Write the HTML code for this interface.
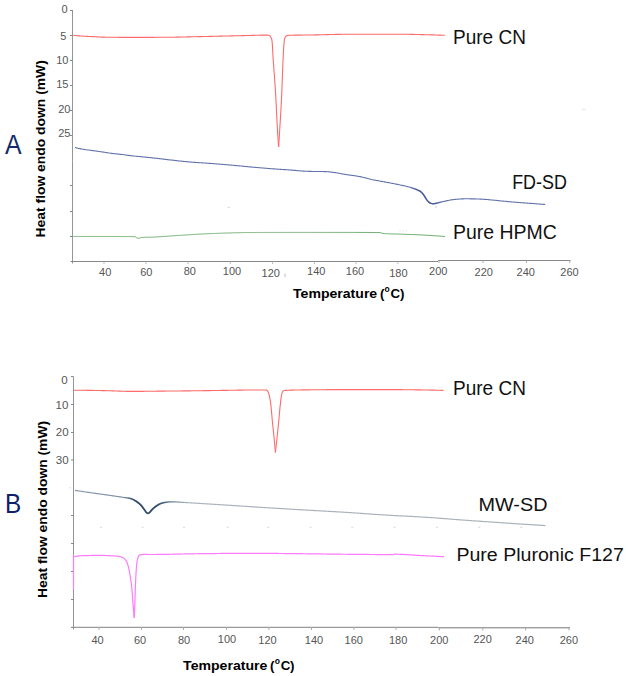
<!DOCTYPE html>
<html><head><meta charset="utf-8"><style>
html,body{margin:0;padding:0;background:#fff;}
svg{display:block;font-family:"Liberation Sans", sans-serif;}
</style></head><body>
<svg width="628" height="676" viewBox="0 0 628 676">
<rect width="628" height="676" fill="#fff"/>
<line x1="72.5" y1="10" x2="72.5" y2="263.5" stroke="#959595" stroke-width="1"/>
<line x1="70" y1="10.5" x2="72.5" y2="10.5" stroke="#888888" stroke-width="1"/>
<line x1="70" y1="35.5" x2="72.5" y2="35.5" stroke="#888888" stroke-width="1"/>
<line x1="70" y1="60.5" x2="72.5" y2="60.5" stroke="#888888" stroke-width="1"/>
<line x1="70" y1="85.5" x2="72.5" y2="85.5" stroke="#888888" stroke-width="1"/>
<line x1="70" y1="110.5" x2="72.5" y2="110.5" stroke="#888888" stroke-width="1"/>
<line x1="70" y1="135.5" x2="72.5" y2="135.5" stroke="#888888" stroke-width="1"/>
<line x1="70" y1="185.5" x2="72.5" y2="185.5" stroke="#888888" stroke-width="1"/>
<line x1="70" y1="211.5" x2="72.5" y2="211.5" stroke="#888888" stroke-width="1"/>
<line x1="70" y1="236.5" x2="72.5" y2="236.5" stroke="#888888" stroke-width="1"/>
<line x1="70.5" y1="261.5" x2="438" y2="261.5" stroke="#888888" stroke-width="1"/>
<line x1="438" y1="260.5" x2="570.5" y2="260.5" stroke="#888888" stroke-width="1"/>
<line x1="104" y1="261.5" x2="104" y2="264" stroke="#bbb" stroke-width="1"/>
<line x1="146" y1="261.5" x2="146" y2="264" stroke="#bbb" stroke-width="1"/>
<line x1="188" y1="261.5" x2="188" y2="264" stroke="#bbb" stroke-width="1"/>
<line x1="230.3" y1="261.5" x2="230.3" y2="264" stroke="#bbb" stroke-width="1"/>
<line x1="272.6" y1="261.5" x2="272.6" y2="264" stroke="#bbb" stroke-width="1"/>
<line x1="314.4" y1="261.5" x2="314.4" y2="264" stroke="#bbb" stroke-width="1"/>
<line x1="356.1" y1="261.5" x2="356.1" y2="264" stroke="#bbb" stroke-width="1"/>
<line x1="397.9" y1="261.5" x2="397.9" y2="264" stroke="#bbb" stroke-width="1"/>
<line x1="439.1" y1="260.5" x2="439.1" y2="263" stroke="#aaa" stroke-width="1"/>
<line x1="483" y1="260.5" x2="483" y2="263" stroke="#aaa" stroke-width="1"/>
<line x1="526.4" y1="260.5" x2="526.4" y2="263" stroke="#aaa" stroke-width="1"/>
<line x1="569.8" y1="260.5" x2="569.8" y2="263" stroke="#aaa" stroke-width="1"/>
<line x1="73.5" y1="376.5" x2="73.5" y2="629.5" stroke="#959595" stroke-width="1"/>
<line x1="71" y1="376.5" x2="73.5" y2="376.5" stroke="#888888" stroke-width="1"/>
<line x1="71" y1="404.5" x2="73.5" y2="404.5" stroke="#888888" stroke-width="1"/>
<line x1="71" y1="432.5" x2="73.5" y2="432.5" stroke="#888888" stroke-width="1"/>
<line x1="71" y1="459.9" x2="73.5" y2="459.9" stroke="#888888" stroke-width="1"/>
<line x1="71" y1="515.5" x2="73.5" y2="515.5" stroke="#888888" stroke-width="1"/>
<line x1="71" y1="543.5" x2="73.5" y2="543.5" stroke="#888888" stroke-width="1"/>
<line x1="71" y1="571.5" x2="73.5" y2="571.5" stroke="#888888" stroke-width="1"/>
<line x1="71" y1="599.5" x2="73.5" y2="599.5" stroke="#888888" stroke-width="1"/>
<line x1="71" y1="627.3" x2="438.3" y2="627.3" stroke="#808080" stroke-width="1"/>
<line x1="438.3" y1="627.8" x2="570" y2="627.8" stroke="#777" stroke-width="1"/>
<line x1="99" y1="627" x2="99" y2="630" stroke="#aaa" stroke-width="1"/>
<line x1="141.5" y1="627" x2="141.5" y2="630" stroke="#aaa" stroke-width="1"/>
<line x1="183.5" y1="627" x2="183.5" y2="630" stroke="#aaa" stroke-width="1"/>
<line x1="226.5" y1="627" x2="226.5" y2="630" stroke="#aaa" stroke-width="1"/>
<line x1="268.9" y1="627" x2="268.9" y2="630" stroke="#aaa" stroke-width="1"/>
<line x1="311.5" y1="627" x2="311.5" y2="630" stroke="#aaa" stroke-width="1"/>
<line x1="353.9" y1="627" x2="353.9" y2="630" stroke="#aaa" stroke-width="1"/>
<line x1="396" y1="627" x2="396" y2="630" stroke="#aaa" stroke-width="1"/>
<line x1="439.3" y1="627.8" x2="439.3" y2="630.5" stroke="#aaa" stroke-width="1"/>
<line x1="482.8" y1="627.8" x2="482.8" y2="630.5" stroke="#aaa" stroke-width="1"/>
<line x1="525.6" y1="627.8" x2="525.6" y2="630.5" stroke="#aaa" stroke-width="1"/>
<line x1="569" y1="627.8" x2="569" y2="630.5" stroke="#aaa" stroke-width="1"/>
<rect x="100" y="526.8" width="2" height="1" fill="#d4d8dc"/>
<rect x="141.5" y="526.8" width="2" height="1" fill="#d4d8dc"/>
<rect x="183" y="526.8" width="2" height="1" fill="#d4d8dc"/>
<rect x="226.6" y="526.8" width="2" height="1" fill="#d4d8dc"/>
<rect x="267.3" y="526.8" width="2" height="1" fill="#d4d8dc"/>
<rect x="309.6" y="526.8" width="2" height="1" fill="#d4d8dc"/>
<rect x="351.3" y="526.8" width="2" height="1" fill="#d4d8dc"/>
<rect x="393.5" y="526.8" width="2" height="1" fill="#d4d8dc"/>
<rect x="436" y="526.8" width="2" height="1" fill="#d4d8dc"/>
<rect x="478.2" y="526.8" width="2" height="1" fill="#d4d8dc"/>
<rect x="520.3" y="526.8" width="2" height="1" fill="#d4d8dc"/>
<rect x="69.5" y="487" width="1.2" height="1.5" fill="#cfe0f0"/>
<rect x="72" y="160" width="1" height="1.5" fill="#9aa0c8"/>
<rect x="582" y="108.8" width="3.5" height="1" fill="#dde3ec"/>
<rect x="284.6" y="273.5" width="0.9" height="3.5" fill="#b8b8b8"/>
<rect x="227.6" y="206.9" width="2.2" height="1" fill="#cfd3e6"/>
<rect x="435" y="206.5" width="2" height="1" fill="#c8cce0"/>
<rect x="399.5" y="230.5" width="1.2" height="0.8" fill="#d8d8d8"/>
<rect x="402.5" y="230.5" width="1.2" height="0.8" fill="#d8d8d8"/>
<rect x="405.5" y="230.5" width="1.2" height="0.8" fill="#d8d8d8"/>
<path d="M72.50,35.20 L73.50,35.31 L74.50,35.43 L75.50,35.53 L76.50,35.64 L77.50,35.73 L78.50,35.83 L79.50,35.91 L80.50,35.99 L81.50,36.07 L82.50,36.13 L83.50,36.19 L84.51,36.25 L85.51,36.30 L86.51,36.35 L87.52,36.39 L88.52,36.44 L89.52,36.48 L90.53,36.53 L91.53,36.58 L92.54,36.63 L93.54,36.68 L94.54,36.74 L95.55,36.79 L96.55,36.85 L97.55,36.91 L98.55,36.96 L99.56,37.01 L100.56,37.05 L101.57,37.09 L102.57,37.12 L103.57,37.14 L104.58,37.17 L105.58,37.20 L106.59,37.22 L107.59,37.24 L108.59,37.26 L109.60,37.28 L110.60,37.29 L111.61,37.30 L112.61,37.30 L113.62,37.31 L114.62,37.31 L115.63,37.32 L116.63,37.32 L117.64,37.32 L118.64,37.33 L119.64,37.33 L120.65,37.33 L121.65,37.34 L122.66,37.34 L123.66,37.34 L124.67,37.34 L125.67,37.34 L126.68,37.35 L127.68,37.35 L128.69,37.35 L129.69,37.35 L130.70,37.35 L131.70,37.35 L132.70,37.35 L133.71,37.35 L134.71,37.35 L135.72,37.35 L136.72,37.35 L137.73,37.35 L138.73,37.35 L139.74,37.35 L140.74,37.35 L141.75,37.35 L142.75,37.34 L143.75,37.34 L144.76,37.34 L145.76,37.34 L146.77,37.34 L147.77,37.34 L148.78,37.34 L149.78,37.33 L150.79,37.33 L151.79,37.33 L152.80,37.33 L153.80,37.33 L154.81,37.33 L155.81,37.32 L156.81,37.32 L157.82,37.32 L158.82,37.32 L159.83,37.31 L160.83,37.31 L161.84,37.31 L162.84,37.31 L163.85,37.30 L164.85,37.30 L165.85,37.30 L166.86,37.29 L167.86,37.28 L168.87,37.27 L169.87,37.26 L170.88,37.25 L171.88,37.24 L172.89,37.22 L173.89,37.20 L174.89,37.18 L175.90,37.16 L176.90,37.14 L177.91,37.12 L178.91,37.10 L179.92,37.08 L180.92,37.06 L181.93,37.03 L182.93,37.01 L183.93,36.98 L184.94,36.96 L185.94,36.94 L186.95,36.91 L187.95,36.89 L188.96,36.87 L189.96,36.84 L190.96,36.82 L191.97,36.80 L192.97,36.78 L193.98,36.76 L194.98,36.74 L195.99,36.72 L196.99,36.69 L197.99,36.67 L199.00,36.65 L200.00,36.62 L201.01,36.60 L202.01,36.58 L203.02,36.55 L204.02,36.53 L205.02,36.51 L206.03,36.48 L207.03,36.46 L208.04,36.44 L209.04,36.41 L210.05,36.39 L211.05,36.36 L212.05,36.34 L213.06,36.31 L214.06,36.29 L215.07,36.27 L216.07,36.24 L217.08,36.22 L218.08,36.19 L219.08,36.17 L220.09,36.14 L221.09,36.12 L222.10,36.10 L223.10,36.07 L224.11,36.05 L225.11,36.03 L226.11,36.00 L227.12,35.98 L228.12,35.96 L229.13,35.93 L230.13,35.91 L231.14,35.89 L232.14,35.86 L233.14,35.84 L234.15,35.82 L235.15,35.79 L236.16,35.77 L237.16,35.75 L238.17,35.72 L239.17,35.70 L240.17,35.68 L241.18,35.65 L242.18,35.63 L243.19,35.60 L244.19,35.58 L245.20,35.56 L246.20,35.53 L247.20,35.51 L248.21,35.49 L249.21,35.46 L250.22,35.44 L251.22,35.42 L252.23,35.39 L253.23,35.37 L254.23,35.34 L255.24,35.31 L256.24,35.28 L257.25,35.25 L258.25,35.22 L259.26,35.19 L260.26,35.17 L261.27,35.14 L262.27,35.12 L263.27,35.11 L264.28,35.10 L265.28,35.10 L266.29,35.12 L267.30,35.16 L268.29,35.24 L269.27,35.54 L270.04,36.09 L270.68,36.94 L271.16,37.82 L271.57,38.76 L271.86,39.73 L271.99,40.70 L272.10,41.68 L272.20,42.67 L272.29,43.66 L272.36,44.66 L272.42,45.66 L272.48,46.67 L272.53,47.68 L272.58,48.69 L272.63,49.71 L272.67,50.72 L272.72,51.73 L272.77,52.75 L272.82,53.75 L272.88,54.76 L272.95,55.76 L273.02,56.76 L273.09,57.77 L273.16,58.77 L273.23,59.77 L273.30,60.77 L273.37,61.78 L273.44,62.78 L273.52,63.78 L273.59,64.78 L273.66,65.78 L273.73,66.79 L273.81,67.79 L273.88,68.79 L273.95,69.79 L274.03,70.79 L274.10,71.80 L274.17,72.80 L274.24,73.80 L274.32,74.80 L274.39,75.80 L274.46,76.81 L274.53,77.81 L274.61,78.81 L274.68,79.81 L274.75,80.81 L274.82,81.82 L274.89,82.82 L274.96,83.82 L275.03,84.82 L275.10,85.82 L275.16,86.83 L275.23,87.83 L275.30,88.83 L275.36,89.83 L275.43,90.84 L275.49,91.84 L275.55,92.84 L275.61,93.84 L275.67,94.85 L275.73,95.85 L275.79,96.85 L275.85,97.85 L275.90,98.86 L275.96,99.86 L276.01,100.86 L276.06,101.87 L276.11,102.87 L276.16,103.87 L276.21,104.88 L276.26,105.88 L276.31,106.88 L276.36,107.89 L276.41,108.89 L276.45,109.89 L276.50,110.90 L276.55,111.90 L276.59,112.90 L276.64,113.91 L276.69,114.91 L276.73,115.92 L276.78,116.92 L276.83,117.92 L276.88,118.93 L276.93,119.93 L276.98,120.93 L277.03,121.94 L277.09,122.94 L277.14,123.94 L277.20,124.94 L277.25,125.95 L277.31,126.95 L277.37,127.95 L277.43,128.96 L277.49,129.96 L277.55,130.96 L277.61,131.96 L277.67,132.97 L277.73,133.97 L277.80,134.97 L277.86,135.97 L277.93,136.98 L277.99,137.98 L278.06,138.98 L278.12,139.98 L278.19,140.99 L278.26,141.99 L278.32,142.99 L278.39,143.99 L278.46,145.00 L278.53,146.00 L278.60,147.00" fill="none" stroke="#ff6a6a" stroke-width="1.1"/>
<path d="M278.60,147.00 L278.67,146.00 L278.73,144.99 L278.80,143.99 L278.86,142.99 L278.93,141.99 L279.00,140.98 L279.06,139.98 L279.13,138.98 L279.19,137.98 L279.25,136.97 L279.32,135.97 L279.38,134.97 L279.45,133.97 L279.51,132.96 L279.57,131.96 L279.63,130.96 L279.70,129.95 L279.76,128.95 L279.82,127.95 L279.88,126.95 L279.94,125.94 L280.00,124.94 L280.06,123.94 L280.13,122.93 L280.19,121.93 L280.25,120.93 L280.31,119.92 L280.37,118.92 L280.43,117.92 L280.49,116.92 L280.55,115.91 L280.61,114.91 L280.67,113.91 L280.73,112.90 L280.79,111.90 L280.85,110.90 L280.91,109.89 L280.97,108.89 L281.02,107.89 L281.08,106.88 L281.14,105.88 L281.19,104.88 L281.25,103.88 L281.30,102.87 L281.35,101.87 L281.41,100.87 L281.46,99.86 L281.51,98.86 L281.56,97.85 L281.61,96.85 L281.65,95.85 L281.70,94.84 L281.74,93.84 L281.79,92.84 L281.83,91.83 L281.87,90.83 L281.91,89.82 L281.95,88.82 L281.99,87.82 L282.03,86.81 L282.07,85.81 L282.10,84.80 L282.14,83.80 L282.18,82.80 L282.21,81.79 L282.25,80.79 L282.28,79.78 L282.32,78.78 L282.35,77.77 L282.39,76.77 L282.42,75.76 L282.46,74.76 L282.49,73.76 L282.53,72.75 L282.57,71.75 L282.60,70.74 L282.64,69.74 L282.68,68.74 L282.72,67.73 L282.76,66.73 L282.80,65.72 L282.84,64.72 L282.88,63.72 L282.92,62.71 L282.97,61.71 L283.01,60.70 L283.06,59.70 L283.11,58.70 L283.16,57.69 L283.21,56.69 L283.26,55.69 L283.32,54.69 L283.37,53.68 L283.42,52.67 L283.47,51.66 L283.52,50.65 L283.57,49.64 L283.63,48.63 L283.68,47.62 L283.75,46.61 L283.82,45.60 L283.90,44.60 L283.98,43.60 L284.08,42.61 L284.19,41.62 L284.31,40.64 L284.46,39.66 L284.70,38.66 L285.06,37.71 L285.52,36.85 L286.23,36.08 L287.08,35.63 L288.08,35.35 L289.07,35.28 L290.06,35.24 L291.05,35.22 L292.05,35.20 L293.06,35.18 L294.07,35.16 L295.08,35.15 L296.09,35.14 L297.10,35.13 L298.12,35.12 L299.13,35.11 L300.13,35.10 L301.14,35.08 L302.14,35.07 L303.15,35.06 L304.15,35.04 L305.16,35.03 L306.16,35.02 L307.17,35.00 L308.17,34.99 L309.17,34.98 L310.18,34.97 L311.18,34.95 L312.19,34.94 L313.19,34.93 L314.20,34.91 L315.20,34.90 L316.21,34.88 L317.21,34.86 L318.22,34.84 L319.22,34.82 L320.23,34.80 L321.23,34.77 L322.23,34.75 L323.24,34.72 L324.24,34.69 L325.25,34.67 L326.25,34.64 L327.26,34.61 L328.26,34.59 L329.27,34.56 L330.27,34.53 L331.28,34.51 L332.28,34.48 L333.28,34.46 L334.29,34.44 L335.29,34.41 L336.30,34.39 L337.30,34.38 L338.31,34.36 L339.31,34.34 L340.32,34.33 L341.32,34.32 L342.33,34.31 L343.33,34.30 L344.34,34.30 L345.34,34.30 L346.34,34.30 L347.35,34.30 L348.35,34.30 L349.36,34.30 L350.36,34.30 L351.37,34.30 L352.37,34.30 L353.38,34.30 L354.38,34.30 L355.39,34.30 L356.39,34.30 L357.40,34.30 L358.40,34.30 L359.41,34.30 L360.41,34.30 L361.42,34.30 L362.42,34.30 L363.43,34.30 L364.43,34.30 L365.44,34.30 L366.44,34.30 L367.44,34.30 L368.45,34.30 L369.45,34.30 L370.46,34.30 L371.46,34.30 L372.47,34.30 L373.47,34.30 L374.48,34.30 L375.48,34.30 L376.49,34.30 L377.49,34.30 L378.50,34.30 L379.50,34.30 L380.51,34.30 L381.51,34.30 L382.52,34.30 L383.52,34.30 L384.53,34.30 L385.53,34.30 L386.54,34.30 L387.54,34.30 L388.55,34.30 L389.55,34.30 L390.56,34.30 L391.56,34.30 L392.57,34.30 L393.57,34.30 L394.57,34.30 L395.58,34.30 L396.58,34.30 L397.59,34.30 L398.59,34.30 L399.60,34.30 L400.60,34.30 L401.61,34.30 L402.61,34.30 L403.62,34.30 L404.62,34.30 L405.63,34.30 L406.63,34.30 L407.64,34.31 L408.64,34.32 L409.65,34.33 L410.65,34.35 L411.65,34.37 L412.66,34.39 L413.66,34.41 L414.67,34.43 L415.67,34.46 L416.68,34.48 L417.68,34.51 L418.69,34.53 L419.69,34.56 L420.70,34.59 L421.70,34.62 L422.70,34.64 L423.71,34.67 L424.71,34.69 L425.72,34.72 L426.72,34.74 L427.73,34.77 L428.73,34.79 L429.74,34.82 L430.74,34.85 L431.74,34.88 L432.75,34.91 L433.75,34.94 L434.76,34.97 L435.76,35.00 L436.77,35.03 L437.77,35.06 L438.77,35.09 L439.78,35.13 L440.78,35.16 L441.79,35.20 L442.79,35.23 L443.80,35.26 L444.80,35.30" fill="none" stroke="#ff6a6a" stroke-width="1.1"/>
<path d="M75.00,147.40 L75.97,147.67 L76.94,147.94 L77.91,148.19 L78.88,148.44 L79.86,148.66 L80.84,148.87 L81.82,149.07 L82.80,149.24 L83.79,149.40 L84.78,149.55 L85.77,149.69 L86.77,149.82 L87.76,149.95 L88.76,150.07 L89.75,150.20 L90.75,150.33 L91.74,150.46 L92.74,150.60 L93.73,150.74 L94.72,150.88 L95.71,151.02 L96.71,151.15 L97.70,151.29 L98.69,151.43 L99.69,151.57 L100.68,151.71 L101.67,151.85 L102.66,152.00 L103.65,152.15 L104.65,152.30 L105.64,152.46 L106.63,152.61 L107.62,152.77 L108.61,152.92 L109.60,153.07 L110.59,153.21 L111.58,153.35 L112.58,153.47 L113.57,153.59 L114.57,153.70 L115.57,153.81 L116.56,153.91 L117.56,154.02 L118.56,154.12 L119.56,154.23 L120.55,154.33 L121.55,154.45 L122.54,154.57 L123.54,154.69 L124.53,154.82 L125.53,154.95 L126.52,155.09 L127.51,155.23 L128.51,155.36 L129.50,155.49 L130.49,155.62 L131.49,155.74 L132.48,155.86 L133.48,155.97 L134.48,156.07 L135.47,156.18 L136.47,156.28 L137.47,156.38 L138.47,156.48 L139.46,156.57 L140.46,156.67 L141.46,156.76 L142.46,156.86 L143.46,156.95 L144.45,157.05 L145.45,157.14 L146.45,157.24 L147.45,157.34 L148.45,157.44 L149.44,157.54 L150.44,157.65 L151.44,157.75 L152.43,157.86 L153.43,157.97 L154.43,158.08 L155.42,158.18 L156.42,158.30 L157.42,158.41 L158.41,158.52 L159.41,158.63 L160.40,158.75 L161.40,158.86 L162.39,158.98 L163.39,159.10 L164.38,159.23 L165.38,159.35 L166.37,159.47 L167.37,159.59 L168.37,159.71 L169.36,159.83 L170.36,159.94 L171.35,160.05 L172.35,160.17 L173.35,160.28 L174.34,160.39 L175.34,160.50 L176.33,160.62 L177.33,160.73 L178.33,160.84 L179.32,160.95 L180.32,161.06 L181.32,161.16 L182.31,161.27 L183.31,161.37 L184.31,161.47 L185.31,161.57 L186.30,161.67 L187.30,161.76 L188.30,161.85 L189.30,161.94 L190.30,162.02 L191.30,162.11 L192.30,162.18 L193.29,162.26 L194.29,162.33 L195.29,162.41 L196.29,162.48 L197.29,162.54 L198.29,162.61 L199.29,162.68 L200.30,162.74 L201.30,162.81 L202.30,162.87 L203.30,162.94 L204.30,163.00 L205.30,163.07 L206.30,163.14 L207.30,163.21 L208.30,163.28 L209.30,163.35 L210.30,163.42 L211.30,163.50 L212.30,163.57 L213.30,163.65 L214.30,163.72 L215.30,163.80 L216.30,163.88 L217.29,163.96 L218.29,164.03 L219.29,164.11 L220.29,164.19 L221.29,164.27 L222.29,164.35 L223.29,164.43 L224.29,164.52 L225.29,164.60 L226.29,164.68 L227.29,164.77 L228.29,164.85 L229.28,164.94 L230.28,165.02 L231.28,165.11 L232.28,165.20 L233.28,165.30 L234.28,165.39 L235.27,165.48 L236.27,165.58 L237.27,165.68 L238.27,165.77 L239.26,165.87 L240.26,165.97 L241.26,166.07 L242.26,166.16 L243.26,166.26 L244.25,166.36 L245.25,166.46 L246.25,166.55 L247.25,166.65 L248.25,166.74 L249.24,166.83 L250.24,166.92 L251.24,167.01 L252.24,167.10 L253.24,167.19 L254.24,167.28 L255.23,167.37 L256.23,167.45 L257.23,167.54 L258.23,167.63 L259.23,167.72 L260.23,167.80 L261.23,167.89 L262.23,167.97 L263.22,168.06 L264.22,168.14 L265.22,168.22 L266.22,168.30 L267.22,168.38 L268.22,168.46 L269.22,168.54 L270.22,168.62 L271.22,168.69 L272.22,168.77 L273.22,168.84 L274.22,168.91 L275.22,168.98 L276.22,169.06 L277.22,169.13 L278.22,169.19 L279.22,169.26 L280.22,169.33 L281.22,169.40 L282.22,169.47 L283.22,169.54 L284.22,169.60 L285.22,169.67 L286.22,169.74 L287.22,169.81 L288.22,169.88 L289.22,169.95 L290.22,170.02 L291.22,170.09 L292.22,170.17 L293.22,170.25 L294.22,170.33 L295.22,170.42 L296.22,170.51 L297.22,170.60 L298.22,170.68 L299.22,170.77 L300.22,170.85 L301.22,170.93 L302.22,171.01 L303.22,171.08 L304.22,171.15 L305.22,171.21 L306.22,171.27 L307.22,171.32 L308.22,171.35 L309.22,171.38 L310.22,171.40 L311.22,171.42 L312.22,171.43 L313.23,171.44 L314.23,171.45 L315.23,171.45 L316.23,171.46 L317.24,171.47 L318.24,171.48 L319.24,171.49 L320.24,171.50 L321.25,171.52 L322.25,171.54 L323.25,171.57 L324.26,171.60 L325.26,171.63 L326.26,171.67 L327.26,171.71 L328.26,171.78 L329.26,171.86 L330.25,171.97 L331.25,172.09 L332.25,172.22 L333.24,172.35 L334.23,172.49 L335.23,172.63 L336.22,172.78 L337.20,172.95 L338.19,173.13 L339.17,173.31 L340.16,173.51 L341.14,173.70 L342.13,173.89 L343.11,174.08 L344.10,174.25 L345.09,174.41 L346.08,174.56 L347.07,174.71 L348.07,174.84 L349.06,174.97 L350.06,175.10 L351.05,175.23 L352.04,175.37 L353.04,175.50 L354.03,175.65 L355.02,175.80 L356.01,175.96 L357.00,176.13 L357.98,176.30 L358.97,176.48 L359.96,176.66 L360.95,176.85 L361.93,177.04 L362.91,177.25 L363.89,177.45 L364.87,177.67 L365.84,177.90 L366.81,178.16 L367.77,178.44 L368.74,178.72 L369.70,179.00 L370.67,179.27 L371.64,179.52 L372.62,179.73 L373.60,179.94 L374.58,180.13 L375.57,180.31 L376.55,180.48 L377.54,180.66 L378.53,180.83 L379.52,181.01 L380.50,181.19 L381.49,181.38 L382.47,181.56 L383.46,181.74 L384.45,181.91 L385.43,182.09 L386.42,182.27 L387.41,182.45 L388.39,182.63 L389.38,182.81 L390.37,183.00 L391.35,183.18 L392.33,183.37 L393.32,183.56 L394.30,183.76 L395.28,183.96 L396.27,184.16 L397.25,184.36 L398.23,184.56 L399.22,184.76 L400.20,184.96 L401.19,185.17 L402.17,185.38 L403.15,185.59 L404.13,185.81 L405.11,186.04 L406.08,186.27 L407.05,186.51 L408.02,186.76 L408.99,187.02 L409.95,187.29 L410.91,187.57 L411.86,187.87 L412.81,188.18 L413.76,188.52 L414.71,188.86 L415.65,189.22 L416.58,189.60 L417.50,189.99 L418.42,190.38 L419.33,190.82 L420.19,191.32 L421.01,191.91 L421.77,192.57 L422.45,193.29 L423.07,194.08 L423.66,194.90 L424.22,195.73 L424.75,196.58 L425.27,197.44 L425.80,198.30 L426.36,199.13 L426.93,199.97 L427.53,200.77 L428.20,201.50 L428.95,202.20 L429.77,202.78 L430.66,203.18 L431.63,203.53 L432.62,203.73 L433.61,203.73 L434.60,203.60 L435.59,203.40 L436.58,203.19 L437.56,202.97 L438.53,202.71 L439.49,202.43 L440.47,202.19 L441.44,201.97 L442.42,201.75 L443.40,201.54 L444.38,201.33 L445.36,201.12 L446.34,200.89 L447.32,200.66 L448.29,200.44 L449.28,200.23 L450.26,200.06 L451.25,199.89 L452.24,199.74 L453.23,199.60 L454.23,199.48 L455.23,199.38 L456.22,199.29 L457.22,199.21 L458.22,199.12 L459.22,199.05 L460.22,198.97 L461.23,198.91 L462.23,198.86 L463.23,198.83 L464.23,198.81 L465.23,198.80 L466.24,198.80 L467.24,198.81 L468.24,198.81 L469.24,198.82 L470.25,198.83 L471.25,198.84 L472.25,198.86 L473.25,198.87 L474.26,198.89 L475.26,198.90 L476.26,198.93 L477.26,198.96 L478.26,199.00 L479.27,199.05 L480.27,199.11 L481.27,199.16 L482.27,199.22 L483.27,199.29 L484.27,199.35 L485.27,199.42 L486.27,199.49 L487.27,199.57 L488.27,199.65 L489.27,199.74 L490.26,199.84 L491.26,199.93 L492.26,200.03 L493.26,200.13 L494.26,200.23 L495.25,200.32 L496.25,200.42 L497.25,200.52 L498.25,200.62 L499.24,200.72 L500.24,200.83 L501.24,200.93 L502.24,201.03 L503.23,201.13 L504.23,201.23 L505.23,201.32 L506.23,201.41 L507.22,201.51 L508.22,201.60 L509.22,201.69 L510.22,201.78 L511.22,201.86 L512.22,201.95 L513.22,202.04 L514.22,202.12 L515.21,202.21 L516.21,202.29 L517.21,202.37 L518.21,202.46 L519.21,202.54 L520.21,202.62 L521.21,202.69 L522.21,202.77 L523.21,202.85 L524.21,202.92 L525.21,202.99 L526.21,203.06 L527.21,203.14 L528.21,203.21 L529.21,203.28 L530.21,203.35 L531.21,203.42 L532.21,203.49 L533.21,203.57 L534.21,203.64 L535.21,203.72 L536.21,203.79 L537.21,203.87 L538.20,203.95 L539.20,204.02 L540.20,204.10 L541.20,204.18 L542.20,204.26 L543.20,204.34 L544.20,204.42 L545.20,204.50" fill="none" stroke="#6273ab" stroke-width="1.1"/>
<defs><linearGradient id="bdg" gradientUnits="userSpaceOnUse" x1="408" y1="0" x2="445" y2="0"><stop offset="0" stop-color="#45579a" stop-opacity="0"/><stop offset="0.3" stop-color="#45579a" stop-opacity="0.85"/><stop offset="0.7" stop-color="#45579a" stop-opacity="0.85"/><stop offset="1" stop-color="#45579a" stop-opacity="0"/></linearGradient></defs>
<path d="M410.00,187.30 L411.01,187.58 L412.01,187.89 L413.00,188.22 L413.99,188.57 L414.96,188.94 L415.93,189.32 L416.89,189.72 L417.84,190.13 L418.79,190.56 L419.72,191.03 L420.59,191.60 L421.42,192.25 L422.16,192.97 L422.83,193.76 L423.45,194.61 L424.05,195.47 L424.61,196.34 L425.15,197.24 L425.69,198.13 L426.27,199.00 L426.86,199.87 L427.48,200.71 L428.17,201.47 L428.95,202.20 L429.80,202.80 L430.73,203.21 L431.74,203.56 L432.78,203.74 L433.80,203.71 L434.83,203.56 L435.87,203.35 L436.89,203.12 L437.90,202.88 L438.91,202.60 L439.91,202.32 L440.93,202.08 L441.94,201.84 L442.96,201.62 L443.98,201.40 L445.00,201.20" fill="none" stroke="url(#bdg)" stroke-width="1.6"/>
<path d="M72.50,236.50 L73.50,236.50 L74.51,236.50 L75.51,236.50 L76.51,236.50 L77.52,236.50 L78.52,236.50 L79.53,236.50 L80.53,236.50 L81.53,236.50 L82.54,236.50 L83.54,236.50 L84.54,236.50 L85.55,236.50 L86.55,236.50 L87.56,236.50 L88.56,236.50 L89.56,236.50 L90.57,236.50 L91.57,236.50 L92.57,236.50 L93.58,236.50 L94.58,236.50 L95.58,236.50 L96.59,236.50 L97.59,236.50 L98.60,236.50 L99.60,236.50 L100.60,236.50 L101.61,236.50 L102.61,236.50 L103.61,236.50 L104.62,236.50 L105.62,236.50 L106.63,236.50 L107.63,236.51 L108.63,236.51 L109.64,236.51 L110.64,236.51 L111.64,236.51 L112.65,236.52 L113.65,236.52 L114.66,236.52 L115.66,236.53 L116.66,236.53 L117.67,236.53 L118.67,236.54 L119.67,236.54 L120.68,236.55 L121.68,236.55 L122.69,236.56 L123.69,236.56 L124.69,236.57 L125.70,236.57 L126.70,236.58 L127.70,236.58 L128.71,236.59 L129.71,236.60 L130.72,236.61 L131.76,236.62 L132.79,236.63 L133.79,236.65 L134.75,236.69 L135.62,236.97 L136.44,237.69 L137.33,238.08 L138.34,238.26 L139.32,238.26 L140.26,237.85 L141.22,237.57 L142.21,237.46 L143.21,237.39 L144.22,237.33 L145.23,237.29 L146.23,237.27 L147.24,237.25 L148.24,237.24 L149.24,237.22 L150.25,237.19 L151.25,237.16 L152.25,237.13 L153.26,237.09 L154.26,237.04 L155.26,236.99 L156.26,236.94 L157.26,236.89 L158.27,236.83 L159.27,236.77 L160.27,236.71 L161.27,236.64 L162.27,236.57 L163.28,236.51 L164.28,236.44 L165.28,236.37 L166.28,236.30 L167.28,236.22 L168.28,236.15 L169.28,236.08 L170.29,236.01 L171.29,235.94 L172.29,235.88 L173.29,235.81 L174.29,235.74 L175.29,235.68 L176.30,235.62 L177.30,235.55 L178.30,235.49 L179.30,235.42 L180.30,235.35 L181.30,235.29 L182.31,235.22 L183.31,235.15 L184.31,235.08 L185.31,235.01 L186.31,234.94 L187.31,234.87 L188.31,234.80 L189.32,234.74 L190.32,234.67 L191.32,234.60 L192.32,234.54 L193.32,234.48 L194.32,234.42 L195.33,234.35 L196.33,234.30 L197.33,234.24 L198.33,234.19 L199.33,234.13 L200.34,234.08 L201.34,234.03 L202.34,233.99 L203.34,233.94 L204.35,233.89 L205.35,233.85 L206.35,233.80 L207.35,233.76 L208.36,233.71 L209.36,233.67 L210.36,233.63 L211.37,233.59 L212.37,233.55 L213.37,233.51 L214.37,233.47 L215.38,233.43 L216.38,233.39 L217.38,233.35 L218.39,233.32 L219.39,233.28 L220.39,233.25 L221.40,233.21 L222.40,233.18 L223.40,233.15 L224.41,233.12 L225.41,233.09 L226.41,233.06 L227.42,233.03 L228.42,232.99 L229.42,232.96 L230.42,232.93 L231.43,232.90 L232.43,232.87 L233.43,232.84 L234.44,232.81 L235.44,232.78 L236.45,232.75 L237.45,232.72 L238.45,232.69 L239.46,232.67 L240.46,232.64 L241.46,232.62 L242.47,232.60 L243.47,232.58 L244.47,232.56 L245.48,232.54 L246.48,232.53 L247.48,232.52 L248.49,232.51 L249.49,232.50 L250.49,232.50 L251.50,232.49 L252.50,232.49 L253.50,232.49 L254.51,232.48 L255.51,232.48 L256.52,232.48 L257.52,232.47 L258.52,232.47 L259.53,232.47 L260.53,232.46 L261.53,232.46 L262.54,232.46 L263.54,232.45 L264.54,232.45 L265.55,232.45 L266.55,232.44 L267.56,232.44 L268.56,232.44 L269.56,232.44 L270.57,232.43 L271.57,232.43 L272.57,232.43 L273.58,232.43 L274.58,232.43 L275.59,232.42 L276.59,232.42 L277.59,232.42 L278.60,232.42 L279.60,232.42 L280.60,232.41 L281.61,232.41 L282.61,232.41 L283.62,232.41 L284.62,232.41 L285.62,232.41 L286.63,232.41 L287.63,232.41 L288.63,232.41 L289.64,232.40 L290.64,232.40 L291.65,232.40 L292.65,232.40 L293.65,232.40 L294.66,232.40 L295.66,232.40 L296.66,232.40 L297.67,232.40 L298.67,232.40 L299.67,232.40 L300.68,232.40 L301.68,232.40 L302.69,232.40 L303.69,232.40 L304.69,232.40 L305.70,232.40 L306.70,232.40 L307.70,232.40 L308.71,232.40 L309.71,232.40 L310.72,232.40 L311.72,232.40 L312.72,232.40 L313.73,232.40 L314.73,232.40 L315.73,232.40 L316.74,232.40 L317.74,232.40 L318.75,232.40 L319.75,232.40 L320.75,232.40 L321.76,232.40 L322.76,232.40 L323.76,232.40 L324.77,232.40 L325.77,232.40 L326.77,232.40 L327.78,232.40 L328.78,232.40 L329.79,232.40 L330.79,232.40 L331.79,232.40 L332.80,232.40 L333.80,232.40 L334.80,232.40 L335.81,232.40 L336.81,232.40 L337.82,232.40 L338.82,232.40 L339.82,232.40 L340.83,232.40 L341.83,232.40 L342.83,232.40 L343.84,232.40 L344.84,232.40 L345.84,232.40 L346.85,232.40 L347.85,232.40 L348.86,232.40 L349.86,232.40 L350.86,232.40 L351.87,232.40 L352.88,232.40 L353.89,232.40 L354.90,232.40 L355.91,232.40 L356.92,232.41 L357.93,232.41 L358.94,232.41 L359.96,232.41 L360.97,232.42 L361.98,232.42 L362.99,232.42 L364.01,232.43 L365.02,232.43 L366.03,232.44 L367.04,232.45 L368.04,232.45 L369.05,232.46 L370.05,232.47 L371.06,232.48 L372.06,232.49 L373.06,232.50 L374.05,232.51 L375.05,232.52 L376.04,232.54 L377.03,232.55 L378.01,232.57 L378.99,232.58 L379.97,232.60 L380.94,232.80 L381.89,233.19 L382.85,233.48 L383.83,233.56 L384.82,233.63 L385.81,233.68 L386.80,233.73 L387.80,233.77 L388.80,233.81 L389.81,233.84 L390.81,233.87 L391.82,233.89 L392.83,233.92 L393.85,233.94 L394.86,233.96 L395.87,233.98 L396.88,234.01 L397.89,234.03 L398.90,234.06 L399.90,234.10 L400.90,234.13 L401.91,234.17 L402.91,234.21 L403.91,234.24 L404.92,234.28 L405.92,234.32 L406.92,234.36 L407.93,234.39 L408.93,234.43 L409.93,234.47 L410.93,234.51 L411.94,234.55 L412.94,234.59 L413.94,234.63 L414.95,234.67 L415.95,234.71 L416.95,234.76 L417.95,234.80 L418.96,234.85 L419.96,234.90 L420.96,234.95 L421.96,235.00 L422.97,235.05 L423.97,235.10 L424.97,235.16 L425.97,235.22 L426.97,235.27 L427.98,235.33 L428.98,235.39 L429.98,235.45 L430.98,235.51 L431.98,235.58 L432.98,235.64 L433.99,235.71 L434.99,235.77 L435.99,235.84 L436.99,235.91 L437.99,235.98 L438.99,236.05 L439.99,236.12 L441.00,236.20 L442.00,236.27 L443.00,236.35 L444.00,236.42 L445.00,236.50" fill="none" stroke="#6fae6f" stroke-width="1.0"/>
<path d="M73.50,390.20 L74.51,390.21 L75.51,390.22 L76.52,390.22 L77.52,390.23 L78.53,390.24 L79.53,390.25 L80.54,390.26 L81.55,390.27 L82.55,390.29 L83.56,390.30 L84.56,390.31 L85.57,390.32 L86.57,390.34 L87.58,390.35 L88.59,390.36 L89.59,390.38 L90.60,390.39 L91.60,390.41 L92.61,390.42 L93.61,390.44 L94.62,390.46 L95.63,390.47 L96.63,390.49 L97.64,390.51 L98.64,390.52 L99.65,390.54 L100.65,390.56 L101.66,390.58 L102.66,390.59 L103.67,390.61 L104.68,390.63 L105.68,390.66 L106.69,390.68 L107.69,390.71 L108.70,390.74 L109.70,390.77 L110.71,390.81 L111.71,390.84 L112.72,390.88 L113.72,390.91 L114.73,390.95 L115.74,390.99 L116.74,391.02 L117.75,391.06 L118.75,391.09 L119.76,391.13 L120.76,391.16 L121.77,391.19 L122.77,391.23 L123.78,391.25 L124.78,391.28 L125.79,391.31 L126.79,391.33 L127.80,391.35 L128.81,391.37 L129.81,391.38 L130.82,391.39 L131.82,391.40 L132.83,391.40 L133.83,391.40 L134.84,391.40 L135.84,391.39 L136.85,391.39 L137.86,391.39 L138.86,391.38 L139.87,391.37 L140.87,391.36 L141.88,391.36 L142.88,391.35 L143.89,391.34 L144.89,391.32 L145.90,391.31 L146.91,391.30 L147.91,391.29 L148.92,391.28 L149.92,391.26 L150.93,391.25 L151.94,391.24 L152.94,391.22 L153.95,391.21 L154.95,391.20 L155.96,391.18 L156.96,391.17 L157.97,391.16 L158.98,391.14 L159.98,391.13 L160.99,391.12 L161.99,391.11 L163.00,391.10 L164.00,391.09 L165.01,391.08 L166.02,391.07 L167.02,391.06 L168.03,391.05 L169.03,391.04 L170.04,391.03 L171.04,391.02 L172.05,391.01 L173.06,391.00 L174.06,390.99 L175.07,390.98 L176.07,390.97 L177.08,390.96 L178.08,390.95 L179.09,390.94 L180.10,390.94 L181.10,390.93 L182.11,390.92 L183.11,390.91 L184.12,390.90 L185.12,390.88 L186.13,390.87 L187.14,390.86 L188.14,390.85 L189.15,390.84 L190.15,390.83 L191.16,390.82 L192.16,390.81 L193.17,390.80 L194.18,390.79 L195.18,390.77 L196.19,390.76 L197.19,390.75 L198.20,390.74 L199.20,390.72 L200.21,390.71 L201.22,390.70 L202.22,390.69 L203.23,390.67 L204.23,390.66 L205.24,390.64 L206.24,390.63 L207.25,390.62 L208.26,390.60 L209.26,390.59 L210.27,390.58 L211.27,390.56 L212.28,390.55 L213.28,390.53 L214.29,390.52 L215.30,390.51 L216.30,390.49 L217.31,390.48 L218.31,390.46 L219.32,390.45 L220.32,390.44 L221.33,390.42 L222.33,390.41 L223.34,390.40 L224.35,390.38 L225.35,390.37 L226.36,390.35 L227.36,390.33 L228.37,390.32 L229.37,390.30 L230.38,390.28 L231.39,390.27 L232.39,390.25 L233.40,390.23 L234.40,390.21 L235.41,390.19 L236.41,390.18 L237.42,390.16 L238.43,390.14 L239.43,390.13 L240.44,390.11 L241.44,390.10 L242.45,390.08 L243.45,390.07 L244.46,390.06 L245.47,390.04 L246.47,390.03 L247.48,390.02 L248.48,390.02 L249.49,390.01 L250.49,390.01 L251.50,390.00 L252.51,390.00 L253.51,390.00 L254.52,390.00 L255.52,390.00 L256.53,390.00 L257.54,390.00 L258.54,390.00 L259.55,390.00 L260.55,390.00 L261.56,390.00 L262.57,390.00 L263.57,390.00 L264.58,390.00 L265.62,390.02 L266.56,390.11 L267.22,390.54 L267.81,391.39 L268.30,392.46 L268.69,393.56 L269.00,394.53 L269.27,395.47 L269.50,396.43 L269.72,397.41 L269.91,398.41 L270.08,399.41 L270.24,400.42 L270.39,401.44 L270.53,402.44 L270.67,403.45 L270.80,404.44 L270.92,405.44 L271.03,406.43 L271.14,407.43 L271.24,408.43 L271.34,409.43 L271.43,410.44 L271.52,411.44 L271.61,412.44 L271.69,413.44 L271.78,414.45 L271.86,415.45 L271.95,416.45 L272.03,417.46 L272.12,418.46 L272.21,419.46 L272.30,420.47 L272.40,421.47 L272.50,422.47 L272.60,423.47 L272.70,424.47 L272.80,425.47 L272.90,426.47 L273.01,427.47 L273.11,428.47 L273.22,429.47 L273.32,430.47 L273.42,431.47 L273.53,432.47 L273.63,433.47 L273.73,434.47 L273.83,435.47 L273.93,436.47 L274.03,437.48 L274.13,438.48 L274.23,439.48 L274.32,440.48 L274.42,441.48 L274.51,442.48 L274.60,443.48 L274.69,444.48 L274.78,445.49 L274.87,446.49 L274.96,447.49 L275.05,448.49 L275.14,449.49 L275.23,450.50 L275.31,451.50 L275.40,452.50" fill="none" stroke="#ff6a6a" stroke-width="1.1"/>
<path d="M275.40,452.50 L275.52,451.50 L275.63,450.50 L275.75,449.50 L275.87,448.50 L275.98,447.50 L276.09,446.49 L276.21,445.49 L276.32,444.49 L276.43,443.49 L276.54,442.49 L276.65,441.49 L276.76,440.49 L276.87,439.49 L276.98,438.48 L277.08,437.48 L277.19,436.48 L277.29,435.48 L277.40,434.48 L277.50,433.47 L277.60,432.47 L277.71,431.47 L277.81,430.47 L277.91,429.46 L278.01,428.46 L278.11,427.46 L278.21,426.46 L278.31,425.45 L278.41,424.45 L278.51,423.45 L278.61,422.45 L278.71,421.44 L278.80,420.44 L278.90,419.44 L278.99,418.43 L279.08,417.43 L279.17,416.43 L279.26,415.42 L279.34,414.42 L279.43,413.41 L279.52,412.41 L279.61,411.41 L279.70,410.40 L279.80,409.40 L279.90,408.40 L280.00,407.39 L280.10,406.39 L280.21,405.39 L280.32,404.39 L280.44,403.39 L280.55,402.38 L280.66,401.37 L280.78,400.36 L280.89,399.34 L281.02,398.33 L281.16,397.32 L281.32,396.33 L281.50,395.35 L281.71,394.38 L281.94,393.43 L282.28,392.37 L282.75,391.38 L283.34,390.78 L284.29,390.49 L285.33,390.38 L286.32,390.33 L287.32,390.29 L288.31,390.25 L289.31,390.21 L290.31,390.17 L291.31,390.14 L292.32,390.10 L293.32,390.08 L294.33,390.05 L295.34,390.02 L296.35,390.00 L297.36,389.98 L298.37,389.96 L299.38,389.95 L300.39,389.93 L301.40,389.92 L302.42,389.90 L303.43,389.89 L304.44,389.88 L305.46,389.87 L306.47,389.86 L307.48,389.85 L308.49,389.84 L309.50,389.83 L310.51,389.82 L311.52,389.81 L312.53,389.80 L313.54,389.79 L314.55,389.78 L315.55,389.77 L316.56,389.76 L317.57,389.75 L318.58,389.74 L319.58,389.73 L320.59,389.72 L321.60,389.72 L322.61,389.71 L323.61,389.70 L324.62,389.69 L325.63,389.68 L326.64,389.67 L327.64,389.66 L328.65,389.66 L329.66,389.65 L330.67,389.64 L331.67,389.64 L332.68,389.63 L333.69,389.63 L334.70,389.62 L335.70,389.62 L336.71,389.61 L337.72,389.61 L338.73,389.61 L339.73,389.60 L340.74,389.60 L341.75,389.60 L342.76,389.60 L343.76,389.60 L344.77,389.60 L345.78,389.60 L346.79,389.60 L347.79,389.60 L348.80,389.60 L349.81,389.60 L350.82,389.60 L351.82,389.60 L352.83,389.60 L353.84,389.60 L354.85,389.60 L355.85,389.60 L356.86,389.60 L357.87,389.60 L358.88,389.60 L359.88,389.60 L360.89,389.60 L361.90,389.60 L362.91,389.60 L363.91,389.60 L364.92,389.60 L365.93,389.60 L366.94,389.60 L367.94,389.60 L368.95,389.60 L369.96,389.60 L370.97,389.60 L371.97,389.60 L372.98,389.60 L373.99,389.60 L375.00,389.60 L376.00,389.60 L377.01,389.60 L378.02,389.60 L379.03,389.60 L380.03,389.60 L381.04,389.60 L382.05,389.60 L383.06,389.60 L384.06,389.60 L385.07,389.60 L386.08,389.60 L387.09,389.60 L388.09,389.60 L389.10,389.60 L390.11,389.60 L391.12,389.60 L392.12,389.60 L393.13,389.61 L394.14,389.61 L395.15,389.61 L396.15,389.62 L397.16,389.63 L398.17,389.63 L399.18,389.64 L400.18,389.65 L401.19,389.66 L402.20,389.67 L403.21,389.68 L404.21,389.69 L405.22,389.70 L406.23,389.71 L407.24,389.73 L408.24,389.74 L409.25,389.75 L410.26,389.76 L411.27,389.78 L412.27,389.79 L413.28,389.81 L414.29,389.82 L415.30,389.83 L416.30,389.85 L417.31,389.86 L418.32,389.88 L419.33,389.89 L420.33,389.90 L421.34,389.92 L422.35,389.93 L423.35,389.95 L424.36,389.97 L425.37,389.99 L426.38,390.00 L427.38,390.02 L428.39,390.04 L429.40,390.06 L430.41,390.08 L431.41,390.11 L432.42,390.13 L433.43,390.15 L434.43,390.17 L435.44,390.20 L436.45,390.22 L437.46,390.25 L438.46,390.27 L439.47,390.30 L440.48,390.32 L441.49,390.35 L442.49,390.37 L443.50,390.40" fill="none" stroke="#ff6a6a" stroke-width="1.1"/>
<defs><linearGradient id="mwg" gradientUnits="userSpaceOnUse" x1="75" y1="0" x2="545" y2="0"><stop offset="0" stop-color="#8a9bae"/><stop offset="0.10" stop-color="#7c90a6"/><stop offset="0.13" stop-color="#4a6888"/><stop offset="0.20" stop-color="#5a7694"/><stop offset="0.24" stop-color="#aab4be"/><stop offset="1" stop-color="#aab2ba"/></linearGradient></defs>
<path d="M75.00,490.40 L75.99,490.55 L76.98,490.70 L77.98,490.84 L78.97,490.99 L79.96,491.14 L80.95,491.28 L81.95,491.43 L82.94,491.58 L83.93,491.72 L84.93,491.87 L85.92,492.01 L86.91,492.15 L87.90,492.30 L88.90,492.44 L89.89,492.58 L90.88,492.73 L91.88,492.87 L92.87,493.01 L93.86,493.15 L94.86,493.29 L95.85,493.42 L96.84,493.56 L97.84,493.70 L98.83,493.84 L99.83,493.98 L100.82,494.11 L101.81,494.25 L102.81,494.39 L103.80,494.53 L104.79,494.66 L105.79,494.80 L106.78,494.94 L107.78,495.08 L108.77,495.22 L109.76,495.37 L110.75,495.51 L111.75,495.65 L112.74,495.79 L113.73,495.94 L114.73,496.08 L115.72,496.22 L116.71,496.37 L117.71,496.51 L118.70,496.65 L119.69,496.80 L120.68,496.95 L121.68,497.10 L122.67,497.24 L123.66,497.39 L124.65,497.55 L125.65,497.70 L126.65,497.83 L127.65,497.97 L128.64,498.13 L129.62,498.31 L130.58,498.55 L131.53,498.88 L132.46,499.27 L133.38,499.69 L134.27,500.14 L135.14,500.64 L135.98,501.19 L136.81,501.77 L137.63,502.34 L138.45,502.93 L139.25,503.55 L140.00,504.20 L140.71,504.90 L141.38,505.66 L142.02,506.43 L142.62,507.23 L143.20,508.06 L143.77,508.88 L144.37,509.68 L144.98,510.48 L145.55,511.33 L146.11,512.17 L146.80,512.89 L147.67,513.40 L148.65,513.16 L149.46,512.63 L150.13,511.85 L150.77,511.08 L151.40,510.29 L152.06,509.54 L152.78,508.85 L153.53,508.18 L154.31,507.54 L155.10,506.92 L155.90,506.31 L156.71,505.71 L157.55,505.16 L158.42,504.67 L159.31,504.20 L160.22,503.76 L161.15,503.38 L162.10,503.07 L163.07,502.83 L164.05,502.62 L165.04,502.44 L166.04,502.29 L167.03,502.16 L168.03,502.03 L169.03,501.94 L170.03,501.90 L171.03,501.90 L172.04,501.90 L173.04,501.90 L174.05,501.90 L175.05,501.90 L176.05,501.92 L177.05,501.98 L178.05,502.06 L179.05,502.13 L180.06,502.20 L181.06,502.26 L182.06,502.32 L183.06,502.38 L184.06,502.44 L185.06,502.50 L186.07,502.56 L187.07,502.62 L188.07,502.68 L189.07,502.74 L190.07,502.80 L191.07,502.86 L192.07,502.92 L193.08,502.98 L194.08,503.04 L195.08,503.10 L196.08,503.17 L197.08,503.23 L198.08,503.29 L199.08,503.35 L200.09,503.41 L201.09,503.48 L202.09,503.54 L203.09,503.60 L204.09,503.67 L205.09,503.73 L206.09,503.79 L207.09,503.86 L208.10,503.92 L209.10,503.98 L210.10,504.05 L211.10,504.11 L212.10,504.17 L213.10,504.24 L214.10,504.30 L215.10,504.37 L216.11,504.43 L217.11,504.49 L218.11,504.56 L219.11,504.62 L220.11,504.69 L221.11,504.75 L222.11,504.81 L223.11,504.88 L224.12,504.94 L225.12,505.01 L226.12,505.07 L227.12,505.14 L228.12,505.20 L229.12,505.27 L230.12,505.33 L231.12,505.40 L232.13,505.46 L233.13,505.53 L234.13,505.59 L235.13,505.66 L236.13,505.72 L237.13,505.79 L238.13,505.86 L239.13,505.92 L240.13,505.99 L241.14,506.05 L242.14,506.12 L243.14,506.19 L244.14,506.25 L245.14,506.32 L246.14,506.38 L247.14,506.45 L248.14,506.52 L249.14,506.58 L250.15,506.65 L251.15,506.71 L252.15,506.78 L253.15,506.84 L254.15,506.91 L255.15,506.97 L256.15,507.04 L257.15,507.10 L258.15,507.17 L259.16,507.23 L260.16,507.29 L261.16,507.36 L262.16,507.42 L263.16,507.48 L264.16,507.55 L265.16,507.61 L266.16,507.67 L267.17,507.73 L268.17,507.80 L269.17,507.86 L270.17,507.92 L271.17,507.98 L272.17,508.04 L273.17,508.10 L274.18,508.17 L275.18,508.23 L276.18,508.29 L277.18,508.35 L278.18,508.41 L279.18,508.47 L280.18,508.53 L281.19,508.59 L282.19,508.65 L283.19,508.71 L284.19,508.77 L285.19,508.83 L286.19,508.89 L287.20,508.95 L288.20,509.01 L289.20,509.07 L290.20,509.13 L291.20,509.19 L292.20,509.25 L293.20,509.31 L294.21,509.36 L295.21,509.42 L296.21,509.48 L297.21,509.54 L298.21,509.60 L299.21,509.66 L300.22,509.72 L301.22,509.78 L302.22,509.84 L303.22,509.90 L304.22,509.95 L305.22,510.01 L306.22,510.07 L307.23,510.13 L308.23,510.19 L309.23,510.25 L310.23,510.30 L311.23,510.36 L312.23,510.42 L313.24,510.47 L314.24,510.53 L315.24,510.59 L316.24,510.64 L317.24,510.70 L318.24,510.76 L319.25,510.81 L320.25,510.87 L321.25,510.92 L322.25,510.98 L323.25,511.04 L324.25,511.09 L325.26,511.15 L326.26,511.20 L327.26,511.26 L328.26,511.32 L329.26,511.37 L330.27,511.43 L331.27,511.49 L332.27,511.54 L333.27,511.60 L334.27,511.66 L335.27,511.72 L336.27,511.78 L337.28,511.83 L338.28,511.89 L339.28,511.95 L340.28,512.01 L341.28,512.07 L342.28,512.13 L343.29,512.19 L344.29,512.26 L345.29,512.32 L346.29,512.38 L347.29,512.44 L348.29,512.51 L349.29,512.57 L350.29,512.64 L351.29,512.71 L352.30,512.77 L353.30,512.84 L354.30,512.91 L355.30,512.98 L356.30,513.05 L357.30,513.12 L358.30,513.19 L359.30,513.26 L360.30,513.33 L361.30,513.40 L362.31,513.47 L363.31,513.54 L364.31,513.61 L365.31,513.68 L366.31,513.75 L367.31,513.82 L368.31,513.89 L369.31,513.96 L370.31,514.03 L371.31,514.10 L372.31,514.17 L373.31,514.24 L374.32,514.31 L375.32,514.38 L376.32,514.44 L377.32,514.51 L378.32,514.58 L379.32,514.64 L380.32,514.71 L381.32,514.77 L382.32,514.83 L383.33,514.90 L384.33,514.96 L385.33,515.02 L386.33,515.08 L387.33,515.14 L388.33,515.20 L389.33,515.25 L390.34,515.31 L391.34,515.37 L392.34,515.42 L393.34,515.48 L394.34,515.53 L395.35,515.58 L396.35,515.64 L397.35,515.69 L398.35,515.74 L399.35,515.79 L400.35,515.85 L401.36,515.90 L402.36,515.95 L403.36,516.00 L404.36,516.05 L405.37,516.10 L406.37,516.16 L407.37,516.21 L408.37,516.26 L409.37,516.31 L410.37,516.36 L411.38,516.42 L412.38,516.47 L413.38,516.52 L414.38,516.58 L415.38,516.63 L416.39,516.69 L417.39,516.75 L418.39,516.80 L419.39,516.86 L420.39,516.92 L421.39,516.98 L422.40,517.04 L423.40,517.10 L424.40,517.16 L425.40,517.23 L426.40,517.29 L427.40,517.36 L428.40,517.42 L429.40,517.49 L430.40,517.56 L431.40,517.63 L432.40,517.70 L433.41,517.77 L434.41,517.85 L435.41,517.92 L436.41,518.00 L437.41,518.07 L438.41,518.15 L439.41,518.22 L440.41,518.30 L441.41,518.38 L442.41,518.45 L443.41,518.53 L444.41,518.61 L445.41,518.69 L446.41,518.77 L447.41,518.85 L448.41,518.93 L449.41,519.01 L450.41,519.09 L451.41,519.16 L452.41,519.24 L453.41,519.32 L454.41,519.40 L455.41,519.48 L456.41,519.56 L457.41,519.63 L458.41,519.71 L459.41,519.79 L460.41,519.86 L461.42,519.94 L462.42,520.01 L463.42,520.09 L464.42,520.16 L465.42,520.23 L466.42,520.30 L467.42,520.37 L468.42,520.44 L469.42,520.52 L470.42,520.59 L471.42,520.66 L472.42,520.73 L473.42,520.80 L474.42,520.87 L475.42,520.94 L476.43,521.01 L477.43,521.08 L478.43,521.15 L479.43,521.22 L480.43,521.29 L481.43,521.36 L482.43,521.43 L483.43,521.50 L484.43,521.57 L485.43,521.64 L486.43,521.71 L487.44,521.77 L488.44,521.84 L489.44,521.91 L490.44,521.98 L491.44,522.05 L492.44,522.12 L493.44,522.19 L494.44,522.25 L495.44,522.32 L496.44,522.39 L497.45,522.46 L498.45,522.52 L499.45,522.59 L500.45,522.66 L501.45,522.73 L502.45,522.79 L503.45,522.86 L504.45,522.93 L505.45,523.00 L506.45,523.06 L507.46,523.13 L508.46,523.20 L509.46,523.26 L510.46,523.33 L511.46,523.40 L512.46,523.46 L513.46,523.53 L514.46,523.60 L515.46,523.66 L516.47,523.73 L517.47,523.79 L518.47,523.86 L519.47,523.93 L520.47,523.99 L521.47,524.06 L522.47,524.12 L523.47,524.19 L524.47,524.25 L525.48,524.32 L526.48,524.38 L527.48,524.45 L528.48,524.51 L529.48,524.58 L530.48,524.64 L531.48,524.71 L532.48,524.77 L533.48,524.84 L534.49,524.90 L535.49,524.96 L536.49,525.03 L537.49,525.09 L538.49,525.16 L539.49,525.22 L540.49,525.28 L541.49,525.35 L542.50,525.41 L543.50,525.47 L544.50,525.54 L545.50,525.60" fill="none" stroke="url(#mwg)" stroke-width="1.2"/>
<defs><linearGradient id="mwd" gradientUnits="userSpaceOnUse" x1="125" y1="0" x2="170" y2="0"><stop offset="0" stop-color="#2c4866" stop-opacity="0"/><stop offset="0.25" stop-color="#2c4866" stop-opacity="0.9"/><stop offset="0.7" stop-color="#2c4866" stop-opacity="0.9"/><stop offset="1" stop-color="#2c4866" stop-opacity="0"/></linearGradient></defs>
<path d="M125.00,497.60 L126.05,497.68 L127.08,497.81 L128.10,497.99 L129.11,498.20 L130.10,498.42 L131.09,498.72 L132.06,499.09 L133.01,499.52 L133.94,499.97 L134.84,500.46 L135.72,501.02 L136.58,501.61 L137.42,502.20 L138.27,502.80 L139.10,503.43 L139.88,504.09 L140.62,504.81 L141.32,505.58 L141.98,506.37 L142.60,507.20 L143.19,508.05 L143.78,508.90 L144.40,509.73 L145.03,510.55 L145.61,511.43 L146.20,512.28 L146.94,513.02 L147.86,513.39 L148.87,513.07 L149.64,512.42 L150.33,511.63 L150.97,510.82 L151.63,510.01 L152.33,509.27 L153.09,508.57 L153.88,507.89 L154.69,507.24 L155.51,506.61 L156.34,505.98 L157.19,505.39 L158.07,504.86 L158.98,504.37 L159.91,503.90 L160.87,503.49 L161.84,503.15 L162.83,502.89 L163.84,502.66 L164.86,502.47 L165.89,502.32 L166.91,502.18 L167.94,502.07 L168.97,501.97 L170.00,501.90" fill="none" stroke="url(#mwd)" stroke-width="1.8"/>
<path d="M73.50,557.10 L74.45,556.75 L75.42,556.50 L76.41,556.29 L77.41,556.10 L78.41,555.94 L79.42,555.84 L80.42,555.78 L81.42,555.74 L82.43,555.70 L83.43,555.67 L84.44,555.64 L85.45,555.61 L86.46,555.58 L87.47,555.55 L88.48,555.53 L89.49,555.50 L90.50,555.49 L91.51,555.47 L92.52,555.45 L93.53,555.44 L94.54,555.43 L95.56,555.42 L96.57,555.41 L97.58,555.41 L98.59,555.40 L99.60,555.40 L100.61,555.40 L101.62,555.41 L102.63,555.42 L103.64,555.45 L104.65,555.47 L105.66,555.50 L106.67,555.54 L107.68,555.58 L108.69,555.63 L109.69,555.68 L110.70,555.74 L111.71,555.79 L112.72,555.86 L113.72,555.92 L114.73,555.98 L115.74,556.05 L116.75,556.14 L117.76,556.25 L118.76,556.39 L119.75,556.55 L120.73,556.77 L121.70,557.10 L122.63,557.51 L123.49,557.99 L124.32,558.60 L125.07,559.31 L125.71,560.06 L126.26,560.91 L126.74,561.82 L127.14,562.74 L127.48,563.69 L127.79,564.66 L128.06,565.63 L128.33,566.60 L128.57,567.59 L128.80,568.57 L129.01,569.56 L129.21,570.54 L129.41,571.54 L129.59,572.53 L129.76,573.52 L129.94,574.52 L130.10,575.51 L130.27,576.51 L130.43,577.51 L130.58,578.51 L130.73,579.50 L130.87,580.50 L131.01,581.50 L131.15,582.50 L131.28,583.50 L131.41,584.51 L131.54,585.51 L131.65,586.51 L131.76,587.51 L131.86,588.52 L131.95,589.52 L132.04,590.53 L132.12,591.53 L132.21,592.54 L132.28,593.55 L132.36,594.55 L132.43,595.56 L132.50,596.57 L132.58,597.57 L132.65,598.58 L132.72,599.59 L132.79,600.60 L132.87,601.60 L132.95,602.61 L133.03,603.62 L133.11,604.62 L133.19,605.63 L133.27,606.63 L133.35,607.64 L133.44,608.65 L133.52,609.65 L133.60,610.66 L133.69,611.66 L133.77,612.67 L133.86,613.68 L133.94,614.68 L134.03,615.69 L134.11,616.69 L134.20,617.70" fill="none" stroke="#ff7aff" stroke-width="1.2"/>
<path d="M134.20,617.70 L134.26,616.70 L134.32,615.69 L134.37,614.69 L134.43,613.69 L134.48,612.68 L134.54,611.68 L134.59,610.67 L134.64,609.67 L134.68,608.67 L134.73,607.66 L134.77,606.66 L134.81,605.65 L134.85,604.65 L134.89,603.64 L134.92,602.64 L134.95,601.64 L134.98,600.63 L135.01,599.63 L135.03,598.62 L135.05,597.62 L135.08,596.61 L135.10,595.61 L135.12,594.60 L135.14,593.60 L135.17,592.59 L135.19,591.59 L135.22,590.58 L135.25,589.58 L135.28,588.57 L135.31,587.57 L135.35,586.56 L135.39,585.56 L135.44,584.56 L135.49,583.55 L135.54,582.55 L135.60,581.54 L135.65,580.54 L135.70,579.54 L135.76,578.53 L135.81,577.53 L135.86,576.52 L135.91,575.52 L135.97,574.52 L136.02,573.51 L136.08,572.51 L136.15,571.51 L136.21,570.50 L136.28,569.50 L136.35,568.50 L136.43,567.49 L136.51,566.49 L136.60,565.49 L136.70,564.49 L136.81,563.49 L136.94,562.49 L137.08,561.49 L137.25,560.50 L137.45,559.51 L137.69,558.54 L138.00,557.52 L138.40,556.53 L138.89,555.73 L139.60,555.13 L140.58,554.68 L141.55,554.55 L142.54,554.47 L143.56,554.43 L144.58,554.40 L145.59,554.40 L146.59,554.42 L147.60,554.45 L148.61,554.48 L149.61,554.50 L150.62,554.50 L151.62,554.50 L152.63,554.50 L153.63,554.49 L154.64,554.48 L155.64,554.48 L156.64,554.47 L157.65,554.46 L158.65,554.45 L159.66,554.44 L160.66,554.43 L161.67,554.41 L162.67,554.40 L163.68,554.38 L164.68,554.37 L165.69,554.35 L166.69,554.33 L167.70,554.31 L168.70,554.29 L169.71,554.28 L170.71,554.26 L171.72,554.24 L172.72,554.21 L173.73,554.19 L174.73,554.17 L175.74,554.15 L176.74,554.13 L177.75,554.11 L178.76,554.09 L179.76,554.06 L180.77,554.04 L181.77,554.02 L182.78,554.00 L183.78,553.98 L184.79,553.96 L185.79,553.93 L186.80,553.91 L187.80,553.89 L188.81,553.87 L189.81,553.86 L190.82,553.84 L191.82,553.82 L192.83,553.80 L193.83,553.78 L194.84,553.77 L195.84,553.75 L196.85,553.74 L197.85,553.73 L198.86,553.71 L199.86,553.70 L200.87,553.69 L201.87,553.68 L202.88,553.67 L203.88,553.66 L204.89,553.65 L205.89,553.64 L206.90,553.62 L207.90,553.61 L208.91,553.60 L209.91,553.59 L210.92,553.58 L211.92,553.57 L212.93,553.56 L213.93,553.55 L214.94,553.54 L215.94,553.53 L216.95,553.51 L217.95,553.50 L218.96,553.49 L219.96,553.48 L220.97,553.47 L221.97,553.46 L222.98,553.45 L223.98,553.44 L224.99,553.43 L225.99,553.42 L227.00,553.42 L228.00,553.41 L229.01,553.40 L230.01,553.39 L231.02,553.38 L232.02,553.37 L233.03,553.37 L234.03,553.36 L235.04,553.35 L236.04,553.35 L237.05,553.34 L238.06,553.33 L239.06,553.33 L240.07,553.32 L241.07,553.32 L242.08,553.32 L243.08,553.31 L244.09,553.31 L245.09,553.31 L246.10,553.30 L247.10,553.30 L248.11,553.30 L249.11,553.30 L250.12,553.30 L251.12,553.30 L252.13,553.30 L253.13,553.30 L254.14,553.30 L255.14,553.31 L256.15,553.31 L257.15,553.31 L258.16,553.32 L259.16,553.32 L260.17,553.33 L261.17,553.33 L262.18,553.34 L263.18,553.34 L264.19,553.35 L265.19,553.36 L266.20,553.36 L267.20,553.37 L268.21,553.38 L269.21,553.39 L270.22,553.40 L271.22,553.41 L272.23,553.41 L273.23,553.42 L274.24,553.43 L275.24,553.44 L276.25,553.45 L277.25,553.46 L278.26,553.47 L279.27,553.48 L280.27,553.49 L281.28,553.50 L282.28,553.51 L283.29,553.52 L284.29,553.54 L285.30,553.55 L286.30,553.56 L287.31,553.57 L288.31,553.58 L289.32,553.59 L290.32,553.60 L291.33,553.61 L292.33,553.62 L293.34,553.63 L294.34,553.64 L295.35,553.65 L296.35,553.66 L297.36,553.67 L298.36,553.68 L299.37,553.69 L300.37,553.70 L301.38,553.71 L302.38,553.72 L303.39,553.73 L304.39,553.75 L305.40,553.76 L306.40,553.77 L307.41,553.78 L308.41,553.79 L309.42,553.80 L310.42,553.81 L311.43,553.83 L312.43,553.84 L313.44,553.85 L314.44,553.87 L315.45,553.88 L316.45,553.89 L317.46,553.90 L318.46,553.92 L319.47,553.93 L320.47,553.94 L321.48,553.96 L322.48,553.97 L323.49,553.98 L324.49,554.00 L325.50,554.01 L326.50,554.03 L327.51,554.04 L328.51,554.05 L329.52,554.07 L330.52,554.08 L331.53,554.09 L332.53,554.10 L333.54,554.12 L334.54,554.13 L335.55,554.14 L336.55,554.16 L337.56,554.17 L338.56,554.18 L339.57,554.19 L340.58,554.20 L341.58,554.21 L342.59,554.23 L343.59,554.24 L344.60,554.25 L345.60,554.26 L346.61,554.27 L347.61,554.28 L348.62,554.29 L349.62,554.30 L350.63,554.31 L351.63,554.31 L352.64,554.32 L353.64,554.33 L354.65,554.34 L355.66,554.35 L356.67,554.36 L357.68,554.37 L358.68,554.38 L359.69,554.39 L360.70,554.40 L361.71,554.41 L362.72,554.42 L363.73,554.43 L364.74,554.44 L365.75,554.45 L366.76,554.46 L367.77,554.46 L368.78,554.47 L369.79,554.48 L370.79,554.49 L371.80,554.50 L372.81,554.51 L373.82,554.52 L374.83,554.52 L375.83,554.53 L376.84,554.54 L377.84,554.54 L378.85,554.55 L379.86,554.56 L380.86,554.56 L381.86,554.57 L382.87,554.57 L383.87,554.58 L384.87,554.58 L385.87,554.59 L386.87,554.59 L387.87,554.59 L388.86,554.60 L389.86,554.60 L390.86,554.60 L391.85,554.60 L392.84,554.60 L393.83,554.45 L394.81,554.21 L395.81,554.20 L396.80,554.21 L397.80,554.23 L398.79,554.26 L399.79,554.29 L400.79,554.33 L401.80,554.37 L402.80,554.42 L403.80,554.47 L404.81,554.53 L405.81,554.59 L406.82,554.65 L407.83,554.71 L408.83,554.78 L409.84,554.85 L410.85,554.92 L411.86,554.99 L412.86,555.06 L413.87,555.13 L414.88,555.19 L415.88,555.26 L416.89,555.32 L417.90,555.38 L418.90,555.44 L419.91,555.50 L420.91,555.55 L421.91,555.60 L422.92,555.65 L423.92,555.70 L424.93,555.75 L425.93,555.80 L426.93,555.85 L427.94,555.90 L428.94,555.95 L429.95,556.00 L430.95,556.05 L431.95,556.10 L432.96,556.15 L433.96,556.20 L434.96,556.25 L435.97,556.30 L436.97,556.35 L437.98,556.40 L438.98,556.45 L439.98,556.50 L440.99,556.55 L441.99,556.60 L443.00,556.65 L444.00,556.70" fill="none" stroke="#ff7aff" stroke-width="1.2"/>
<line x1="73.5" y1="555" x2="73.5" y2="590" stroke="#ff7aff" stroke-width="1.2"/>
<text x="67.7" y="12.8" font-size="11" fill="#555555" font-weight="normal" text-anchor="end" >0</text>
<text x="66.3" y="39.8" font-size="11" fill="#555555" font-weight="normal" text-anchor="end" >5</text>
<text x="68.5" y="64.4" font-size="11" fill="#555555" font-weight="normal" text-anchor="end" >10</text>
<text x="68.5" y="88" font-size="11" fill="#555555" font-weight="normal" text-anchor="end" >15</text>
<text x="70.5" y="112.7" font-size="11" fill="#555555" font-weight="normal" text-anchor="end" >20</text>
<text x="70.5" y="137.3" font-size="11" fill="#555555" font-weight="normal" text-anchor="end" >25</text>
<text x="105.2" y="276" font-size="11" fill="#555555" font-weight="normal" text-anchor="middle" >40</text>
<text x="146.3" y="275.5" font-size="11" fill="#555555" font-weight="normal" text-anchor="middle" >60</text>
<text x="189.8" y="275.4" font-size="11" fill="#555555" font-weight="normal" text-anchor="middle" >80</text>
<text x="232" y="275.4" font-size="11" fill="#555555" font-weight="normal" text-anchor="middle" >100</text>
<text x="270.8" y="276.7" font-size="11" fill="#555555" font-weight="normal" text-anchor="middle" >120</text>
<text x="316.2" y="275.1" font-size="11" fill="#555555" font-weight="normal" text-anchor="middle" >140</text>
<text x="355" y="275" font-size="11" fill="#555555" font-weight="normal" text-anchor="middle" >160</text>
<text x="398.4" y="276.7" font-size="11" fill="#555555" font-weight="normal" text-anchor="middle" >180</text>
<text x="438.3" y="275.1" font-size="11" fill="#555555" font-weight="normal" text-anchor="middle" >200</text>
<text x="483.7" y="275.6" font-size="11" fill="#555555" font-weight="normal" text-anchor="middle" >220</text>
<text x="525.8" y="275.6" font-size="11" fill="#555555" font-weight="normal" text-anchor="middle" >240</text>
<text x="569.5" y="275.6" font-size="11" fill="#555555" font-weight="normal" text-anchor="middle" >260</text>
<text x="67.6" y="383.5" font-size="11.5" fill="#555555" font-weight="normal" text-anchor="end" >0</text>
<text x="68.3" y="408.8" font-size="11.5" fill="#555555" font-weight="normal" text-anchor="end" >10</text>
<text x="68.6" y="435.5" font-size="11.5" fill="#555555" font-weight="normal" text-anchor="end" >20</text>
<text x="68.6" y="464.3" font-size="11.5" fill="#555555" font-weight="normal" text-anchor="end" >30</text>
<text x="97.6" y="644.2" font-size="11" fill="#555555" font-weight="normal" text-anchor="middle" >40</text>
<text x="140" y="643.7" font-size="11" fill="#555555" font-weight="normal" text-anchor="middle" >60</text>
<text x="184.1" y="643.7" font-size="11" fill="#555555" font-weight="normal" text-anchor="middle" >80</text>
<text x="227" y="642.9" font-size="11" fill="#555555" font-weight="normal" text-anchor="middle" >100</text>
<text x="267.5" y="644.2" font-size="11" fill="#555555" font-weight="normal" text-anchor="middle" >120</text>
<text x="314" y="643.7" font-size="11" fill="#555555" font-weight="normal" text-anchor="middle" >140</text>
<text x="353.7" y="643.7" font-size="11" fill="#555555" font-weight="normal" text-anchor="middle" >160</text>
<text x="398.1" y="643.7" font-size="11" fill="#555555" font-weight="normal" text-anchor="middle" >180</text>
<text x="439.3" y="643.8" font-size="11" fill="#555555" font-weight="normal" text-anchor="middle" >200</text>
<text x="482.6" y="643" font-size="11" fill="#555555" font-weight="normal" text-anchor="middle" >220</text>
<text x="524.8" y="643.8" font-size="11" fill="#555555" font-weight="normal" text-anchor="middle" >240</text>
<text x="568.9" y="643.8" font-size="11" fill="#555555" font-weight="normal" text-anchor="middle" >260</text>
<text x="453.0" y="44.2" font-size="19.6" fill="#111111" font-weight="normal" text-anchor="start" textLength="72.9" lengthAdjust="spacingAndGlyphs" >Pure CN</text>
<text x="512.2" y="189.3" font-size="19.6" fill="#111111" font-weight="normal" text-anchor="start" textLength="54.7" lengthAdjust="spacingAndGlyphs" >FD-SD</text>
<text x="452.9" y="239.0" font-size="19.6" fill="#111111" font-weight="normal" text-anchor="start" textLength="103.9" lengthAdjust="spacingAndGlyphs" >Pure HPMC</text>
<text x="453.0" y="394.8" font-size="19.6" fill="#111111" font-weight="normal" text-anchor="start" textLength="72.9" lengthAdjust="spacingAndGlyphs" >Pure CN</text>
<text x="478.5" y="511.1" font-size="18.2" fill="#111111" font-weight="normal" text-anchor="start" textLength="69.0" lengthAdjust="spacingAndGlyphs" >MW-SD</text>
<text x="456.4" y="560.6" font-size="19.2" fill="#111111" font-weight="normal" text-anchor="start" textLength="167.5" lengthAdjust="spacingAndGlyphs" >Pure Pluronic F127</text>
<text x="293.00" y="298.30" font-size="13.3" font-weight="bold" fill="#000" textLength="84.2" lengthAdjust="spacingAndGlyphs">Temperature</text>
<text x="380.00" y="298.30" font-size="13.3" font-weight="bold" fill="#000">(</text>
<text x="384.60" y="292.30" font-size="8.5" font-weight="bold" fill="#000">o</text>
<text x="390.60" y="298.30" font-size="13.3" font-weight="bold" fill="#000" textLength="9.6" lengthAdjust="spacingAndGlyphs">C</text>
<text x="400.00" y="298.30" font-size="13.3" font-weight="bold" fill="#000">)</text>
<text x="183.10" y="670.10" font-size="13.3" font-weight="bold" fill="#000" textLength="84.2" lengthAdjust="spacingAndGlyphs">Temperature</text>
<text x="270.10" y="670.10" font-size="13.3" font-weight="bold" fill="#000">(</text>
<text x="274.70" y="664.10" font-size="8.5" font-weight="bold" fill="#000">o</text>
<text x="280.70" y="670.10" font-size="13.3" font-weight="bold" fill="#000" textLength="9.6" lengthAdjust="spacingAndGlyphs">C</text>
<text x="290.10" y="670.10" font-size="13.3" font-weight="bold" fill="#000">)</text>
<text transform="translate(44.8,237.4) rotate(-90)" font-size="13.4" font-weight="bold" fill="#000" textLength="177.2" lengthAdjust="spacingAndGlyphs">Heat flow endo down (mW)</text>
<text transform="translate(46.6,597.9) rotate(-90)" font-size="13.4" font-weight="bold" fill="#000" textLength="177" lengthAdjust="spacingAndGlyphs">Heat flow endo down (mW)</text>
<text x="5.0" y="153.8" font-size="27.5" fill="#142a6c" textLength="16.6" lengthAdjust="spacingAndGlyphs">A</text>
<text x="5.0" y="512.8" font-size="27.3" fill="#0d2069" textLength="16.2" lengthAdjust="spacingAndGlyphs">B</text>
</svg>
</body></html>
